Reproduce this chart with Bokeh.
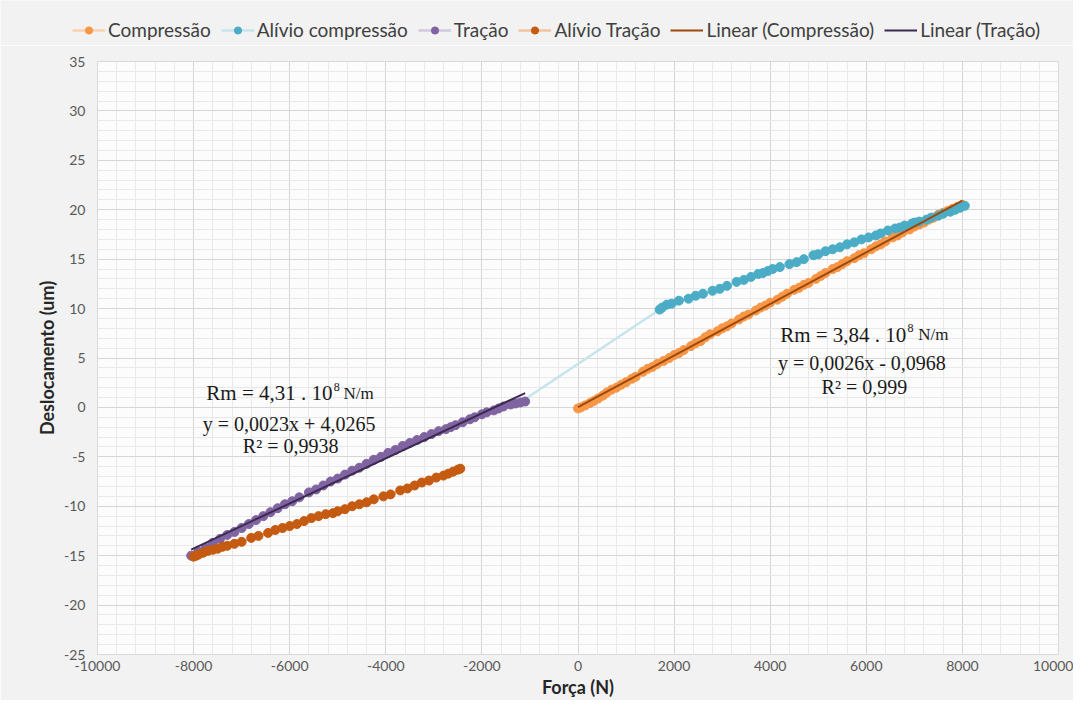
import numpy as np
from bokeh.plotting import figure
from bokeh.layouts import column, row
from bokeh.models import (Legend, LegendItem, Label, SingleIntervalTicker, Range1d,
                          PrintfTickFormatter)
from bokeh.embed import file_html
from bokeh.resources import INLINE

# ---------------- data ----------------
comp_x = [0, 60, 150, 250, 330, 420, 520, 600, 700, 800, 900, 1000, 1120, 1200, 1350, 1450, 1550,
          1650, 1780, 1900, 2000, 2100, 2200, 2350, 2450, 2550, 2650, 2750, 2900, 3000, 3100, 3200,
          3350, 3450, 3550, 3700, 3800, 3900, 4000, 4150, 4250, 4350, 4500, 4600, 4700, 4800, 4950,
          5050, 5150, 5300, 5400, 5500, 5600, 5750, 5850, 5950, 6100, 6200, 6300, 6400, 6550, 6650,
          6750, 6900, 7000, 7100, 7200, 7300, 7400, 7500, 7600, 7700, 7800, 7900, 8000]
comp_y = [-0.1, 0.0, 0.2, 0.45, 0.65, 0.9, 1.2, 1.5, 1.8, 2.0, 2.3, 2.55, 2.9, 3.1, 3.6, 3.9, 4.1,
          4.4, 4.7, 5.0, 5.3, 5.5, 5.8, 6.2, 6.5, 6.7, 7.1, 7.4, 7.7, 8.0, 8.2, 8.5,
          8.9, 9.2, 9.4, 9.8, 10.1, 10.3, 10.6, 10.9, 11.2, 11.5, 11.9, 12.1, 12.4, 12.6, 13.0,
          13.3, 13.6, 14.0, 14.2, 14.5, 14.8, 15.1, 15.4, 15.6, 16.0, 16.3, 16.5, 16.8, 17.2, 17.4,
          17.7, 18.0, 18.3, 18.5, 18.7, 19.0, 19.2, 19.5, 19.7, 19.9, 20.1, 20.3, 20.5]

# last entry of the relief series is the unmarked end of its connecting line
alcomp_x = [8050, 7950, 7850, 7750, 7600, 7500, 7350, 7250, 7100, 7000, 6950, 6800, 6700, 6600,
            6450, 6300, 6200, 6050, 5900, 5750, 5600, 5450, 5300, 5150, 5000, 4900, 4700, 4550,
            4400, 4200, 4050, 3950, 3850, 3750, 3600, 3450, 3300, 3100, 2950, 2800, 2600, 2450,
            2300, 2100, 1950, 1850, 1750, 1700, -1050]
alcomp_y = [20.4, 20.2, 20.0, 19.8, 19.6, 19.4, 19.2, 19.0, 18.8, 18.7, 18.6, 18.4, 18.2, 18.1,
            17.9, 17.6, 17.4, 17.2, 17.0, 16.7, 16.5, 16.2, 16.0, 15.8, 15.5, 15.4, 15.0, 14.7,
            14.5, 14.2, 14.0, 13.8, 13.6, 13.5, 13.2, 12.9, 12.7, 12.3, 12.0, 11.8, 11.5, 11.3,
            11.0, 10.8, 10.5, 10.4, 10.1, 9.9, 1.0]

trac_x = [-1100, -1200, -1300, -1400, -1550, -1650, -1750, -1900, -2000, -2150, -2250, -2400,
          -2550, -2650, -2750, -2900, -3050, -3200, -3350, -3500, -3650, -3800, -3950, -4100,
          -4250, -4400, -4550, -4700, -4850, -5000, -5150, -5300, -5450, -5600, -5800, -5950,
          -6100, -6250, -6400, -6550, -6700, -6850, -7000, -7150, -7300, -7450, -7600, -7750,
          -7900, -8050]
trac_y = [0.6, 0.5, 0.4, 0.3, 0.1, -0.1, -0.3, -0.5, -0.7, -1.0, -1.2, -1.5,
          -1.8, -2.0, -2.2, -2.4, -2.7, -3.0, -3.3, -3.6, -3.9, -4.3, -4.6, -5.0,
          -5.3, -5.7, -6.1, -6.4, -6.8, -7.2, -7.5, -7.9, -8.3, -8.6, -9.1, -9.5,
          -9.8, -10.2, -10.6, -11.0, -11.4, -11.8, -12.2, -12.6, -12.9, -13.3, -13.7, -14.2,
          -14.6, -15.0]

altrac_x = [-8000, -7950, -7900, -7800, -7700, -7600, -7500, -7400, -7300, -7150, -7000, -6800,
            -6650, -6450, -6300, -6150, -6000, -5850, -5700, -5550, -5400, -5250, -5100, -5000,
            -4850, -4700, -4550, -4400, -4250, -4050, -3900, -3700, -3550, -3400, -3250, -3100,
            -2950, -2800, -2700, -2600, -2500, -2450]
altrac_y = [-15.1, -15.0, -14.9, -14.7, -14.5, -14.4, -14.3, -14.1, -14.0, -13.8, -13.6, -13.2,
            -13.0, -12.7, -12.4, -12.2, -12.0, -11.8, -11.5, -11.2, -11.0, -10.8, -10.7, -10.5,
            -10.3, -10.0, -9.8, -9.6, -9.3, -9.0, -8.8, -8.4, -8.2, -7.9, -7.6, -7.4,
            -7.1, -6.9, -6.7, -6.5, -6.3, -6.2]

series_names = ["Compressão", "Alívio compressão", "Tração", "Alívio Tração"]
trend_names = ["Linear (Compressão)", "Linear (Tração)"]

BG = "#F2F2F2"
LEG_H = 45

# ---------------- legend strip (its ranges show none of the data) ----------------
lf = figure(width=1073, height=LEG_H, output_backend="svg", toolbar_location=None,
            x_range=Range1d(1e6, 1e6 + 1), y_range=Range1d(1e6, 1e6 + 1),
            min_border_left=0, min_border_right=0, min_border_top=0, min_border_bottom=0)
lf.axis.visible = False
lf.grid.visible = False
lf.outline_line_color = None
lf.border_fill_color = BG
lf.background_fill_color = BG

# ---------------- main figure ----------------
p = figure(width=1073, height=700 - LEG_H, output_backend="svg", toolbar_location=None,
           x_range=Range1d(-10000, 10000), y_range=Range1d(-25, 35),
           min_border_left=97, min_border_right=15, min_border_top=61 - LEG_H,
           min_border_bottom=43)
p.border_fill_color = BG
p.background_fill_color = "#FCFCFC"
p.outline_line_color = "#D9D9D9"

p.xaxis.ticker = SingleIntervalTicker(interval=2000, num_minor_ticks=5)
p.yaxis.ticker = SingleIntervalTicker(interval=5, num_minor_ticks=5)
for ax in (p.xaxis[0], p.yaxis[0]):
    ax.formatter = PrintfTickFormatter(format="%d")
    ax.axis_line_color = None
    ax.major_tick_line_color = None
    ax.minor_tick_line_color = None
    ax.major_tick_out = 0
    ax.major_tick_in = 0
    ax.minor_tick_out = 0
    ax.minor_tick_in = 0
    ax.major_label_text_font = "Lato"
    ax.major_label_text_font_size = "14px"
    ax.major_label_text_color = "#595959"
    ax.axis_label_text_font = "Lato"
    ax.axis_label_text_font_style = "bold"
    ax.axis_label_text_font_size = "18px"
    ax.axis_label_text_color = "#262626"
p.xaxis.axis_label = "Força (N)"
p.yaxis.axis_label = "Deslocamento (um)"
p.xaxis.major_label_standoff = 6
p.xaxis.axis_label_standoff = 2
p.yaxis.major_label_standoff = 12
p.yaxis.axis_label_standoff = 3

for g in (p.xgrid[0], p.ygrid[0]):
    g.grid_line_color = "#D6D6D6"
    g.grid_line_width = 1
    g.minor_grid_line_color = "#E9E9E9"
    g.minor_grid_line_width = 1

# ---------------- series ----------------
specs = [
    (comp_x, comp_y, "#F79646", "#FAD0B0", len(comp_x)),
    (alcomp_x, alcomp_y, "#4BACC6", "#C6E4EC", len(alcomp_x) - 1),
    (trac_x, trac_y, "#8064A2", "#D3C8E0", len(trac_x)),
    (altrac_x, altrac_y, "#C55A11", "#F2C4A4", len(altrac_x)),
]
items = []
for (xs, ys, mc, lc, nmark), name in zip(specs, series_names):
    p.line(xs, ys, line_color=lc, line_width=2.5)
    p.scatter(xs[:nmark], ys[:nmark], size=9, fill_color=mc, line_color=mc)
    # same series in the legend strip, outside its visible range: only the swatch shows
    lr = lf.line(xs, ys, line_color=lc, line_width=2.5)
    sr = lf.scatter(xs[:nmark], ys[:nmark], size=8, fill_color=mc, line_color=mc)
    items.append(LegendItem(label=name, renderers=[lr, sr]))

trend_colors = ["#9C4A0C", "#3B2A4F"]
for (xs, ys), col, name in zip([(comp_x, comp_y), (trac_x, trac_y)], trend_colors, trend_names):
    k, b = np.polyfit(xs, ys, 1)
    x0, x1 = min(xs), max(xs)
    p.line([x0, x1], [k * x0 + b, k * x1 + b], line_color=col, line_width=2)
    tr = lf.line([x0, x1], [k * x0 + b, k * x1 + b], line_color=col, line_width=2)
    items.append(LegendItem(label=name, renderers=[tr]))

legend = Legend(items=items, orientation="horizontal", location=(72, 4))
legend.background_fill_alpha = 0
legend.border_line_color = None
legend.padding = 0
legend.margin = 0
legend.spacing = 10
legend.glyph_width = 33
legend.glyph_height = 18
legend.label_standoff = 3
legend.label_text_font = "Lato"
legend.label_text_font_size = "19px"
legend.label_text_color = "#404040"
lf.add_layout(legend)

# ---------------- annotations ----------------
SERIF = "Liberation Serif"
def lab(x, y, text, size, align="left", baseline="alphabetic"):
    p.add_layout(Label(x=x, y=y, text=text, text_font=SERIF, text_font_size=size,
                       text_align=align, text_baseline=baseline, text_color="#1A1A1A"))

# left (Tração)
lab(-5109, 1.41, "Rm = 4,31 . 10", "21px", "right")
lab(-5085, 2.1, "8", "12px")
lab(-4880, 1.41, "N/m", "17px")
lab(-5960, -1.71, "y = 0,0023x  + 4,0265", "20px", "center", "middle")
lab(-5980, -3.93, "R² = 0,9938", "20px", "center", "middle")

# right (Compressão)
lab(6833, 7.35, "Rm = 3,84 . 10", "21px", "right")
lab(6857, 8.05, "8", "12px")
lab(7080, 7.35, "N/m", "17px")
lab(5960, 4.53, "y = 0,0026x  - 0,0968", "20px", "center", "middle")
lab(5960, 2.11, "R² = 0,999", "20px", "center", "middle")

page = column(row(lf), p, spacing=0)
open("out.html", "w").write(file_html(page, INLINE))
